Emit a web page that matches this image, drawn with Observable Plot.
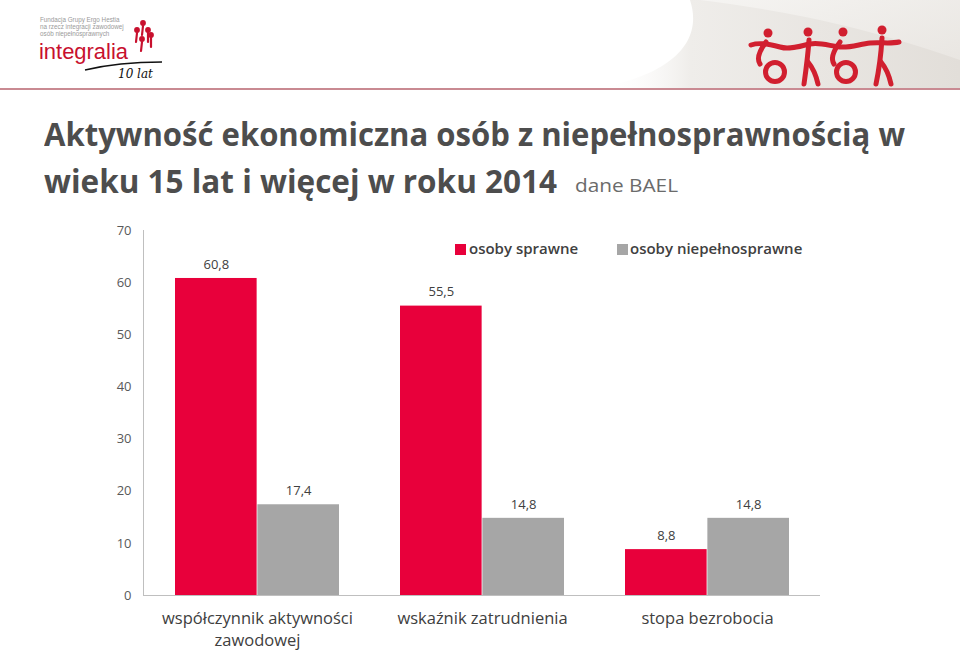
<!DOCTYPE html>
<html>
<head>
<meta charset="utf-8">
<script src="https://cdn.jsdelivr.net/npm/d3@7"></script>
<script src="https://cdn.jsdelivr.net/npm/@observablehq/plot@0.6"></script>
<style>
  html, body { margin: 0; padding: 0; background: #fff; }
  body { width: 960px; height: 653px; position: relative; overflow: hidden; font-family: "Open Sans", sans-serif; }
  .abs { position: absolute; white-space: nowrap; }
  .title { font-weight: 700; font-size: 32px; color: #4d4d4d; line-height: 1; transform-origin: 0 0; }
  .sub { font-size: 19px; color: #6b6b6b; line-height: 1; transform-origin: 0 0; }
  .legend { font-size: 15px; font-weight: 600; color: #404040; line-height: 1; }
  .sw { position: absolute; width: 11px; height: 11px; }
  #chart { position: absolute; left: 0; top: 215px; }
</style>
</head>
<body>
<svg class="abs" style="left:0;top:0" width="960" height="92">
  <defs>
    <linearGradient id="bg" x1="0" x2="1" y1="0" y2="0">
      <stop offset="0" stop-color="#ffffff" stop-opacity="0"/>
      <stop offset="0.25" stop-color="#efedea"/>
      <stop offset="1" stop-color="#e2ded9"/>
    </linearGradient>
    <linearGradient id="bg2" x1="0" x2="1" y1="0" y2="1">
      <stop offset="0" stop-color="#f7f6f4"/>
      <stop offset="1" stop-color="#ebe8e4"/>
    </linearGradient>
  </defs>
  <path d="M690,0 L960,0 L960,88 L600,88 C690,70 700,30 690,0 Z" fill="url(#bg)"/>
  <path d="M700,0 C780,10 860,25 960,60 L960,0 Z" fill="url(#bg2)" opacity="0.8"/>
  <line x1="0" x2="960" y1="89" y2="89" stroke="#c98a92" stroke-width="2"/>
  <!-- left logo -->
  <text x="40" y="21.5" font-family="Liberation Sans, Arial" font-size="6.3" fill="#9a9a9a">Fundacja Grupy Ergo Hestia</text>
  <text x="40" y="28.5" font-family="Liberation Sans, Arial" font-size="6.3" fill="#9a9a9a">na rzecz integracji zawodowej</text>
  <text x="40" y="35.5" font-family="Liberation Sans, Arial" font-size="6.3" fill="#9a9a9a">osób niepełnosprawnych</text>
  <text x="39" y="59" font-family="Liberation Sans, Arial" font-size="22" fill="#c8102e" textLength="89" lengthAdjust="spacingAndGlyphs">integralia</text>
  <g fill="#c8102e" stroke="#c8102e" stroke-width="2.2" stroke-linecap="round">
    <circle cx="137" cy="30" r="1.8"/><line x1="137" y1="33" x2="136" y2="42"/>
    <circle cx="143" cy="23" r="1.8"/><line x1="143" y1="26" x2="142" y2="35"/>
    <circle cx="148" cy="30" r="1.8"/><line x1="148" y1="33" x2="148" y2="42"/>
    <circle cx="151" cy="35" r="1.8"/><line x1="151" y1="38" x2="151" y2="47"/>
    <circle cx="142" cy="39" r="1.8"/><line x1="142" y1="42" x2="141" y2="51"/>
  </g>
  <path d="M85,70 C110,64 140,62 162,62" stroke="#111" stroke-width="1.3" fill="none"/>
  <text x="118" y="78" font-family="DejaVu Serif, serif" font-style="italic" font-size="12" fill="#111">10 lat</text>
  <!-- right logo -->
  <g stroke="#d11f2f" stroke-width="5" fill="none" stroke-linecap="round" stroke-linejoin="round">
    <path d="M751,45 C760,42 770,44 780,47 C790,50 800,46 810,44 C820,42 830,46 840,47 C850,48 860,44 870,43 C880,42 890,44 899,42"/>
    <path d="M766,42 C760,50 756,58 760,64"/>
    <circle cx="775" cy="72" r="9.5"/>
    <path d="M809,40 C808,55 806,70 804,84"/>
    <path d="M808,62 C813,68 816,75 818,84"/>
    <path d="M840,42 C834,50 830,58 834,64"/>
    <circle cx="846" cy="72" r="9.5"/>
    <path d="M882,38 C881,55 879,70 876,84"/>
    <path d="M881,62 C886,68 889,75 891,84"/>
  </g>
  <g fill="#d11f2f">
    <circle cx="768" cy="33" r="4.5"/>
    <circle cx="808" cy="32" r="4.5"/>
    <circle cx="843" cy="32" r="4.5"/>
    <circle cx="882" cy="30" r="4.5"/>
  </g>
</svg>

<div id="t1" class="abs title" style="left:44px;top:118px;">Aktywność ekonomiczna osób z niepełnosprawnością w</div>
<div id="t2" class="abs title" style="left:44px;top:165px;">wieku 15 lat i więcej w roku 2014</div>
<div id="t3" class="abs sub" style="left:575px;top:176px;">dane BAEL</div>

<div id="chart"></div>

<div class="sw" style="left:455px;top:244px;background:#e8003b"></div>
<div class="abs legend" style="left:469px;top:241px;">osoby sprawne</div>
<div class="sw" style="left:617px;top:244px;background:#a6a6a6"></div>
<div class="abs legend" style="left:630px;top:241px;">osoby niepełnosprawne</div>

<script>
// ---- data ----
const categories = ["współczynnik aktywności\nzawodowej", "wskaźnik zatrudnienia", "stopa bezrobocia"];
const seriesNames = ["osoby sprawne", "osoby niepełnosprawne"];
const sprawne = [60.8, 55.5, 8.8];
const niepelnosprawne = [17.4, 14.8, 14.8];
const yTicks = [0, 10, 20, 30, 40, 50, 60, 70];

const colors = ["#e8003b", "#a6a6a6"];

const rowsA = categories.map((c, i) => ({cat: c, series: seriesNames[0], value: sprawne[i]}));
const rowsB = categories.map((c, i) => ({cat: c, series: seriesNames[1], value: niepelnosprawne[i]}));

const width = 960, height = 438;
const mL = 144, mR = 139, mT = 15, mB = 58;
const padInner = 0.27, padOuter = 0.135;
const step = (width - mL - mR) / (categories.length - padInner + 2 * padOuter);
const bw = step * (1 - padInner);
const half = bw / 2;

const fmt = d => d.value.toFixed(1).replace(".", ",");

const chart = Plot.plot({
  width, height,
  marginLeft: mL, marginRight: mR, marginTop: mT, marginBottom: mB,
  style: {fontFamily: "Open Sans, sans-serif", background: "transparent"},
  x: {domain: categories, paddingInner: padInner, paddingOuter: padOuter, label: null},
  y: {domain: [0, 70], label: null},
  color: {domain: seriesNames, range: colors},
  marks: [
    Plot.barY(rowsA, {x: "cat", y: "value", fill: "series", insetRight: half, insetLeft: 0}),
    Plot.barY(rowsB, {x: "cat", y: "value", fill: "series", insetLeft: half, insetRight: 0}),
    Plot.text(rowsA, {x: "cat", y: "value", text: fmt, dx: -half / 2, dy: -14, fill: "#404040", fontSize: 13}),
    Plot.text(rowsB, {x: "cat", y: "value", text: fmt, dx: half / 2, dy: -14, fill: "#404040", fontSize: 13}),
    Plot.ruleY([0], {stroke: "#bfbfbf", strokeWidth: 1, dx: -1}),
    Plot.axisY({ticks: yTicks, tickSize: 0, tickPadding: 13, fontSize: 13, fill: "#595959", label: null, tickFormat: d => String(d)}),
    Plot.axisX({tickSize: 0, tickPadding: 13, fontSize: 16.5, fill: "#404040", label: null, lineHeight: 1.34})
  ]
});

// vertical axis line at the left edge of the frame
const ys = chart.scale("y");
d3.select(chart).append("line")
  .attr("x1", mL - 0.5).attr("x2", mL - 0.5)
  .attr("y1", ys.apply(70)).attr("y2", ys.apply(0))
  .attr("stroke", "#bfbfbf").attr("stroke-width", 1);

document.getElementById("chart").appendChild(chart);

function fit(id, w) {
  const el = document.getElementById(id);
  const r = el.getBoundingClientRect().width;
  el.style.transform = `scaleX(${w / r})`;
}
fit("t1", 861);
fit("t2", 513);
fit("t3", 103);
</script>
</body>
</html>
